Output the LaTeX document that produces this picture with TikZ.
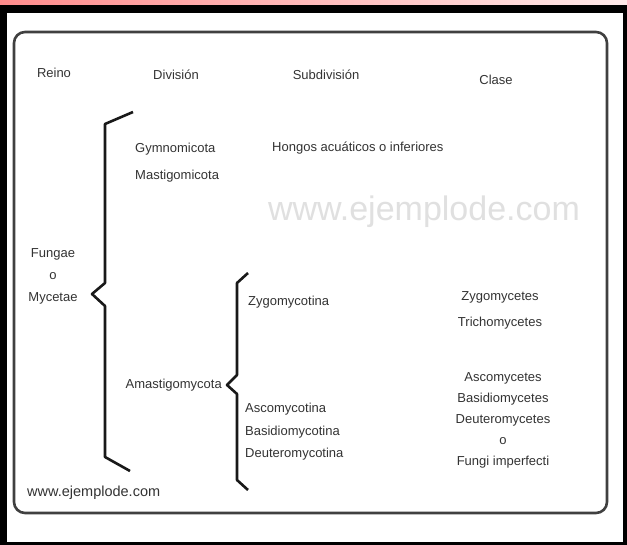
\documentclass[tikz,border=0pt]{standalone}
\usepackage{fontspec}
\setmainfont{Liberation Sans}
\usetikzlibrary{positioning}

\begin{document}
\begin{tikzpicture}[x=1pt,y=-1pt,
  every node/.style={inner sep=0,text=black!80,font=\fontsize{13}{22}\selectfont},
  brace/.style={line width=2.6pt,black!90,line join=round}]
\useasboundingbox (0,0) rectangle (627,545);
% frame
\fill[left color=red!45,right color=red!8] (0,0) rectangle (627,5);
\fill[black] (0,5) rectangle (627,545);
\fill[white] (7,13) rectangle (623,542);
\draw[line width=2.6pt,black!75,rounded corners=11pt] (14,32) rectangle (607,513);

\node(wm) at (424, 212) {\fontsize{34}{34}\selectfont\color{black!12}www.ejemplode.com};

\node(reino) at (54, 73) {Reino};
\node(division) at (176, 75) {División};
\node(subdiv) at (326, 75) {Subdivisión};
\node(clase) at (496, 80) {Clase};

\node(fungae) at (53, 276) [align=center] {Fungae\\o\\Mycetae};
\node(gymno) at (135, 163) [anchor=west,align=left,font=\fontsize{13}{27}\selectfont] {Gymnomicota\\Mastigomicota};
\node(hongos) at (272, 148) [anchor=west] {Hongos acuáticos o inferiores};
\node(amast) at (222, 385) [anchor=east] {Amastigomycota};
\node(zygo) at (248, 302) [anchor=west] {Zygomycotina};
\node(asco) at (245, 432) [anchor=west,align=left,font=\fontsize{13}{22.5}\selectfont] {Ascomycotina\\Basidiomycotina\\Deuteromycotina};
\node(zygoc) at (500, 310) [align=center,font=\fontsize{13}{26}\selectfont] {Zygomycetes\\Trichomycetes};
\node(ascoc) at (503, 420) [align=center,font=\fontsize{13}{21}\selectfont] {Ascomycetes\\Basidiomycetes\\Deuteromycetes\\o\\Fungi imperfecti};
\node(web) at (27, 493) [anchor=west,font=\fontsize{14.5}{16}\selectfont] {www.ejemplode.com};

% braces
\draw[brace] (133,112) -- (105,124) -- (105,283) -- (92,294) -- (105,306) -- (105,457) -- (130,471);
\draw[brace] (248,273) -- (237,283) -- (237,375) -- (227,385) -- (237,394) -- (237,480) -- (248,490);
\end{tikzpicture}
\end{document}
